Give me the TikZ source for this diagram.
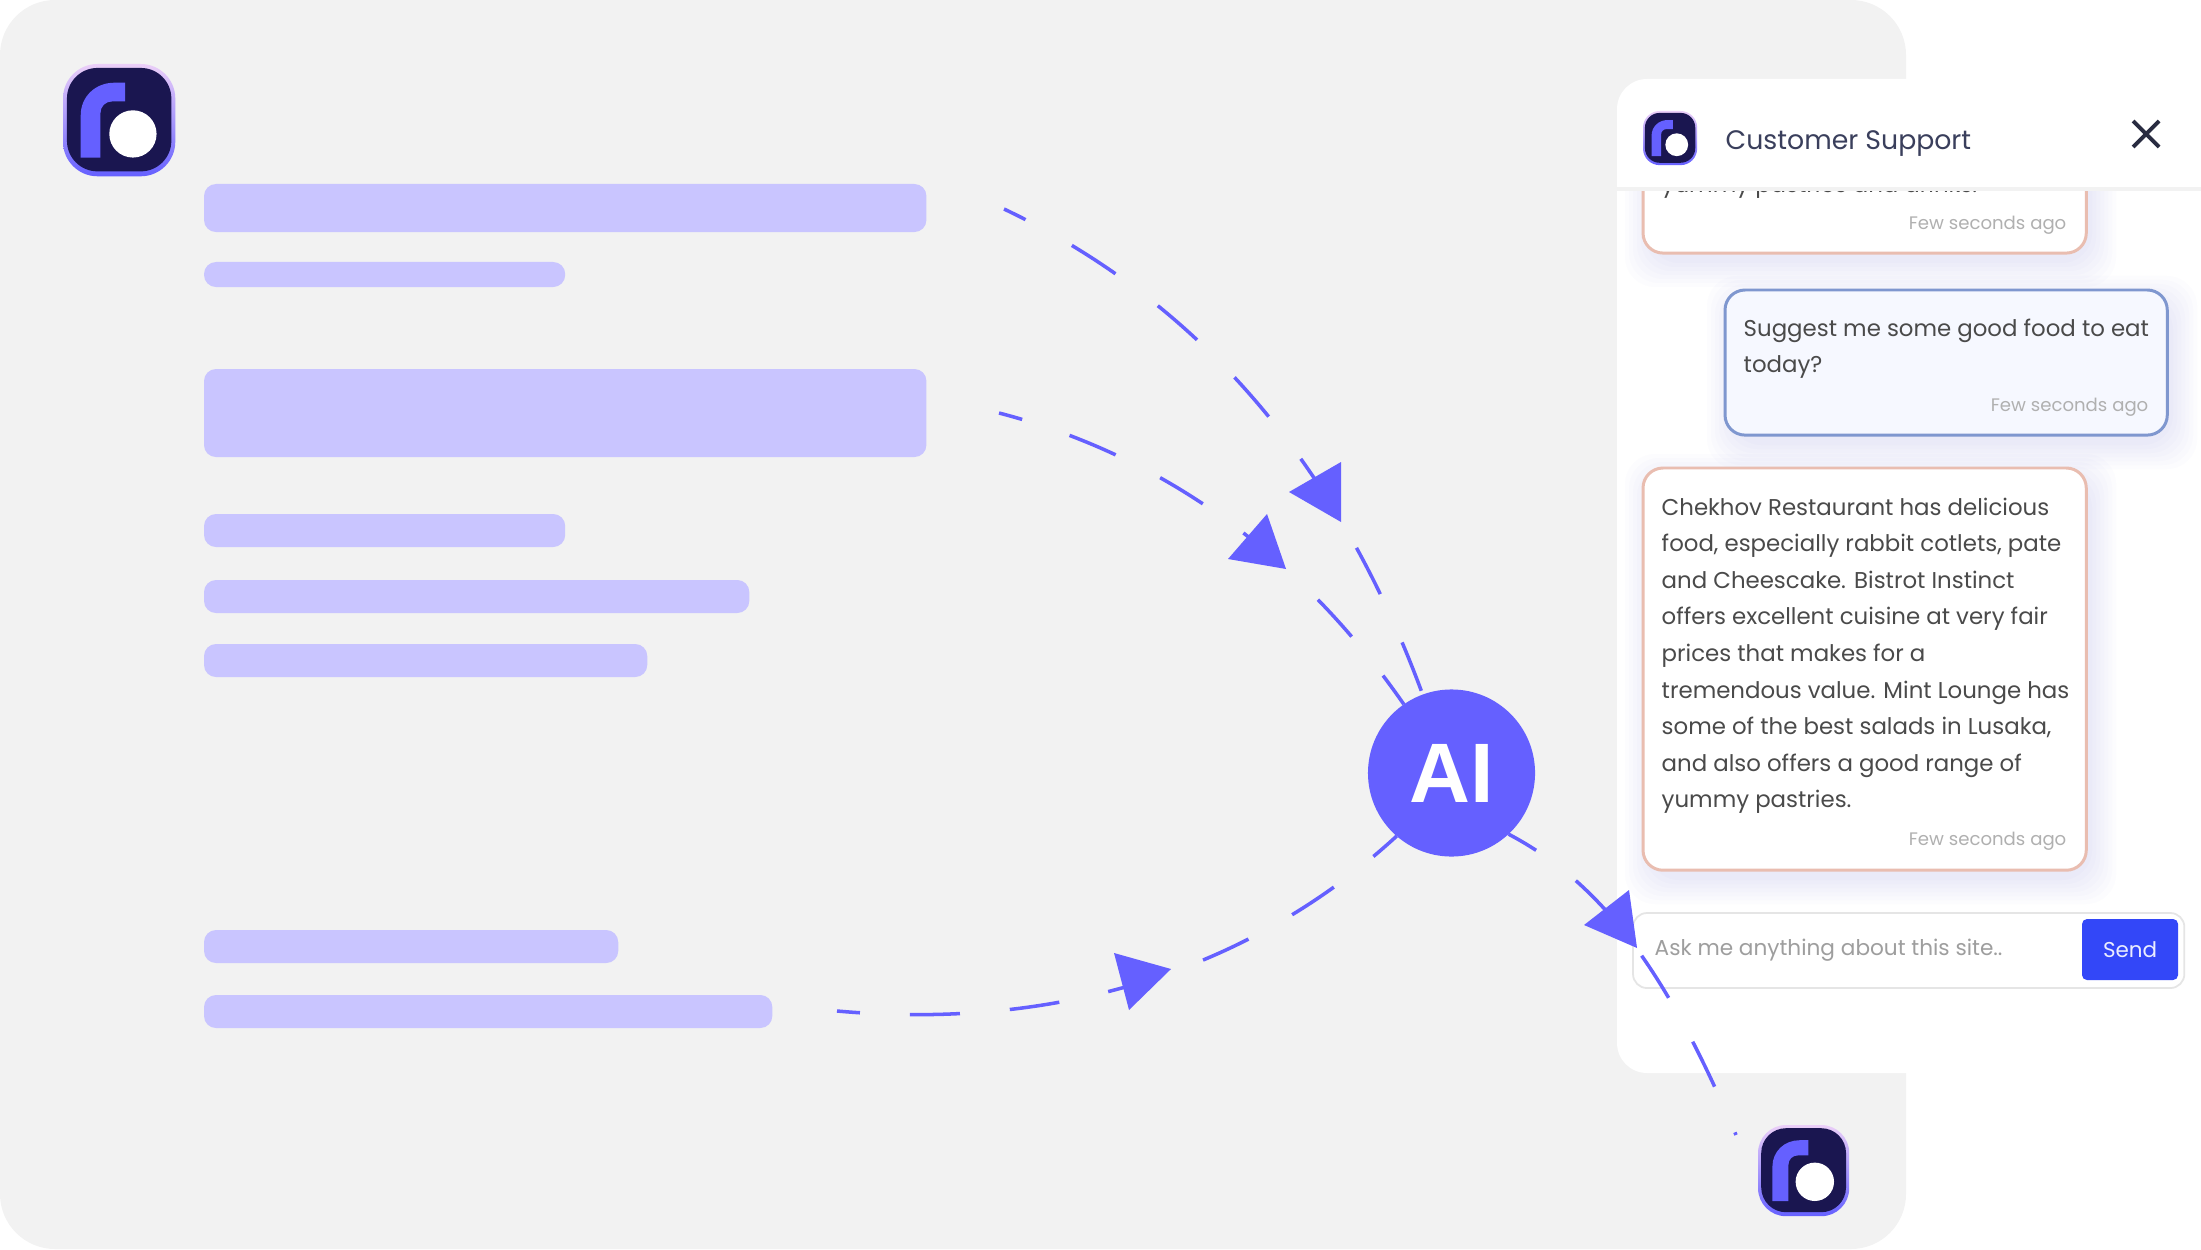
\documentclass[tikz,border=0pt]{standalone}
\usepackage{fontspec}
\setmainfont{Poppins}
\setsansfont{Liberation Sans}
\usetikzlibrary{positioning,calc}
\definecolor{colorBG}{HTML}{F2F2F2}
\definecolor{colorBAR}{HTML}{C9C5FF}
\definecolor{colorAI}{HTML}{6560FF}
\definecolor{colorNAVY}{HTML}{1A1650}
\definecolor{colorBOT}{HTML}{E9BDB0}
\definecolor{colorUSR}{HTML}{7F97CF}
\definecolor{colorUSRF}{HTML}{F6F8FF}
\definecolor{colorSEND}{HTML}{3347F8}
\definecolor{colorTXT}{HTML}{4A4A4A}
\definecolor{colorDIM}{HTML}{B0B0B0}
\definecolor{colorHDR}{HTML}{3A3F5C}
\definecolor{colorSHD}{HTML}{5A5AF0}
\definecolor{colorRIMT}{HTML}{EBCFF8}
\definecolor{colorRIMM}{HTML}{BFE0FF}
\tikzset{
   bar/.style={anchor=north west,fill=colorBAR,rounded corners=0.12cm,inner sep=0,outer sep=0},
   bubble/.style={anchor=north west,draw=colorBOT,line width=0.85pt,fill=white,rounded corners=0.2cm,inner sep=0,outer sep=0},
   ububble/.style={bubble,draw=colorUSR,fill=colorUSRF},
   msg/.style={anchor=north west,align=left,inner sep=0,text=colorTXT,font=\fontsize{6.5}{10.41}\selectfont},
   ago/.style={anchor=base east,inner sep=0,text=colorDIM,font=\fontsize{5.15}{6}\selectfont},
   flow/.style={color=colorAI,line width=1pt},
   ahead/.style={fill=colorAI},
}
\newcommand{\softshadow}[4]{
  \foreach \g in {24,20,16,12,8,4,0}
    \fill[colorSHD,opacity=0.014,rounded corners=0.3cm] (#1+6-\g,#2+10-\g) rectangle (#3+6+\g,#4+10+\g);
}
\newcommand{\rlogo}[3]{
  \pgfmathsetmacro{\lra}{#3*0.35}
  \pgfmathsetmacro{\lrb}{#3*0.31}
  \begin{scope}[shift={(#1,#2)},scale=#3]
    \path[rounded corners=\lra cm,top color=colorRIMT,middle color=colorRIMM,bottom color=colorAI] (0,0) rectangle (114,114);
    \fill[colorNAVY,rounded corners=\lrb cm] (4,4) rectangle (110,109);
    \fill[colorAI] (18,95) -- (18,52) .. controls (18,33) and (33,19) .. (52,19) -- (63,19) -- (63,38) -- (50,38) .. controls (43,38) and (38,43) .. (38,50) -- (38,95) -- cycle;
    \fill[white] (71,71) circle[radius=24];
  \end{scope}
}
\begin{document}
\begin{tikzpicture}[x=0.01cm,y=-0.01cm]
      \useasboundingbox (0,0) rectangle (2201,1249);
      \clip (0,0) rectangle (2201,1249);
      \fill[colorBG,rounded corners=0.55cm] (0,0) rectangle (1906,1249);
      \rlogo{63}{64}{0.985}
      \node[bar,minimum width=7.22cm,minimum height=0.48cm] (bar1) at (204,184) {};
      \node[bar,minimum width=3.61cm,minimum height=0.25cm] (bar2) at (204,262) {};
      \node[bar,minimum width=7.22cm,minimum height=0.88cm] (bar3) at (204,369) {};
      \node[bar,minimum width=3.61cm,minimum height=0.33cm] (bar4) at (204,514) {};
      \node[bar,minimum width=5.45cm,minimum height=0.33cm] (bar5) at (204,580) {};
      \node[bar,minimum width=4.43cm,minimum height=0.33cm] (bar6) at (204,644) {};
      \node[bar,minimum width=4.14cm,minimum height=0.33cm] (bar7) at (204,930) {};
      \node[bar,minimum width=5.68cm,minimum height=0.33cm] (bar8) at (204,995) {};
      \fill[white,rounded corners=0.3cm] (1617,79) rectangle (2260,1073);
      \begin{scope}
        \clip (1617,190) rectangle (2201,300);
        \softshadow{1643}{130}{2086}{253}
        \node[bubble,minimum width=4.43cm,minimum height=1.33cm] (oldbot) at (1643,120) {};
        \node[msg,anchor=base west] (oldtxt) at (1661,193) {yummy pastries and drinks.};
      \end{scope}
      \node[ago] (oldago) at (2067,230) {Few seconds ago};
      \fill[colorBG] (1617,187) rectangle (2201,191);
      \rlogo{1643}{111}{0.475}
      \node[anchor=base west,inner sep=0,text=colorHDR,font=\fontsize{7.6}{10}\selectfont] (title) at (1725,150) {Customer Support};
      \coordinate (xa) at (2133,121);
      \coordinate (xb) at (2159,147);
      \coordinate (xc) at (2159,121);
      \coordinate (xd) at (2133,147);
      \draw[colorHDR!70!black,line width=1.1pt] (xa) -- (xb) (xc) -- (xd);
      \softshadow{1725}{290}{2167}{435}
      \node[ububble,minimum width=4.42cm,minimum height=1.45cm] (usr) at (1725,290) {};
      \node[msg] (usrtxt) at (1743,318) {Suggest me some good food to eat\\today?};
      \node[ago] (usrago) at (2149,411) {Few seconds ago};
      \softshadow{1643}{468}{2086}{870}
      \node[bubble,minimum width=4.43cm,minimum height=4.02cm] (bot) at (1643,468) {};
      \node[msg] (bottxt) at (1661,497) {Chekhov Restaurant has delicious\\food, especially rabbit cotlets, pate\\and Cheescake. Bistrot Instinct\\offers excellent cuisine at very fair\\prices that makes for a\\tremendous value. Mint Lounge has\\some of the best salads in Lusaka,\\and also offers a good range of\\yummy pastries.};
      \node[ago] (botago) at (2067,845) {Few seconds ago};
      \node[anchor=north west,draw=black!10,line width=0.5pt,fill=white,rounded corners=0.14cm,minimum width=5.51cm,minimum height=0.75cm,inner sep=0,outer sep=0] (inp) at (1633,913) {};
      \node[anchor=base west,inner sep=0,text=black!38,font=\fontsize{6.15}{8}\selectfont] (ask) at (1654,955) {Ask me anything about this site..};
      \node[anchor=north west,fill=colorSEND,rounded corners=0.05cm,minimum width=0.96cm,minimum height=0.61cm,inner sep=0,outer sep=0,text=white!90!colorSEND,font=\fontsize{6.1}{8}\selectfont] (send) at (2082,919) {Send};
      \rlogo{1758}{1125}{0.8}
      \node[circle,fill=colorAI,minimum size=1.67cm,inner sep=0,outer sep=0,text=white,font=\sffamily\bfseries\fontsize{24}{24}\selectfont] (ai) at (1451.5,773) {AI};
      \coordinate (fa) at (1004,209);
      \coordinate (fb) at (999,413);
      \coordinate (fc) at (837,1011);
      \coordinate (fd) at (1736,1135);
      \draw[flow,dash pattern=on 0.52cm off 0.53cm,dash phase=0.28cm] (fa) .. controls (1193,299) and (1335,456) .. (ai);
      \draw[flow,dash pattern=on 0.5cm off 0.5cm,dash phase=0.26cm] (fb) .. controls (1157,454) and (1296,549) .. (ai);
      \draw[flow,dash pattern=on 0.5cm off 0.5cm,dash phase=0.27cm] (fc) .. controls (1050,1030) and (1245,975) .. (ai.229);
      \draw[flow,dash pattern=on 0.5cm off 0.5cm,dash phase=0.18cm] (ai.-47) .. controls (1605,885) and (1668,975) .. (fd);
      \fill[ahead] (1289,492) -- (1341,462) -- (1341,522) -- cycle;
      \fill[ahead] (1267,514) -- (1228,559) -- (1286,569) -- cycle;
      \fill[ahead] (1114,953) -- (1171,969) -- (1129,1010) -- cycle;
      \fill[ahead] (1629,890) -- (1584,925) -- (1637,948) -- cycle;
    \end{tikzpicture}
\end{document}
